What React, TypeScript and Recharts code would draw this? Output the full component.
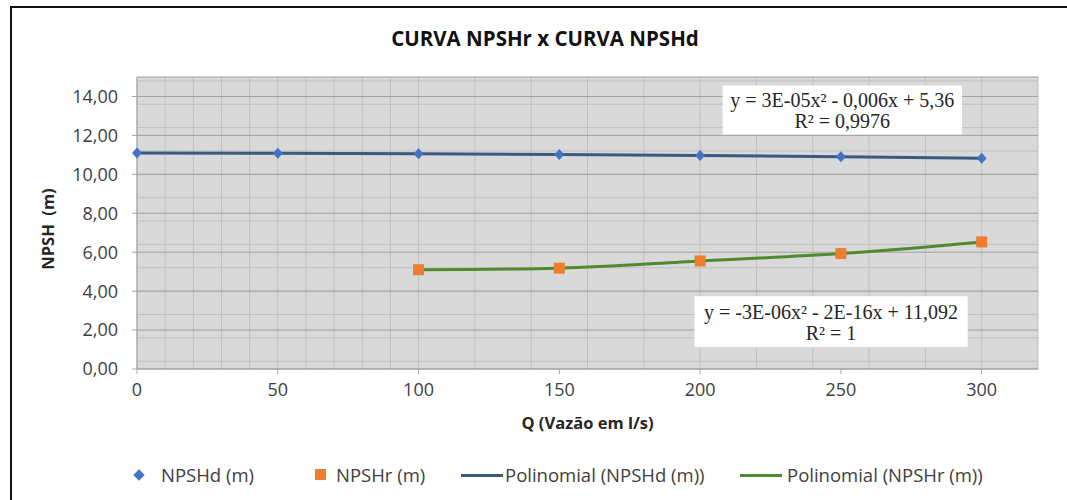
import {
  ComposedChart,
  Line,
  XAxis,
  YAxis,
  CartesianGrid,
  ReferenceArea,
  Legend,
} from "recharts";

// Q (l/s)
const vazao = [0, 50, 100, 150, 200, 250, 300];
// NPSH disponivel (m)
const npshd = [11.09, 11.08, 11.06, 11.02, 10.97, 10.9, 10.82];
// NPSH requerido (m) - sem dados abaixo de 100 l/s
const npshr = [null, null, 5.1, 5.18, 5.55, 5.93, 6.53];

const xTicks = [0, 50, 100, 150, 200, 250, 300];
const yTicks = [0, 2, 4, 6, 8, 10, 12, 14];

const eqTop = ["y = 3E-05x² - 0,006x + 5,36", "R² = 0,9976"];
const eqBottom = ["y = -3E-06x² - 2E-16x + 11,092", "R² = 1"];

const legendItems = [
  { name: "NPSHd (m)", icon: "diamond", color: "#4472c4", left: 133, textLeft: 161 },
  { name: "NPSHr (m)", icon: "square", color: "#ed7d31", left: 315, textLeft: 336 },
  { name: "Polinomial (NPSHd (m))", icon: "line", color: "#3b5a7f", left: 461, textLeft: 505 },
  { name: "Polinomial (NPSHr (m))", icon: "line", color: "#4e8a2e", left: 740, textLeft: 787 },
];

const data = vazao.map((q, i) => ({ q, npshd: npshd[i], npshr: npshr[i] }));

// grade secundaria do Excel
const minorX = Array.from({ length: 33 }, (_, i) => i * 10);
const minorY = Array.from({ length: 38 }, (_, i) => +(i * 0.4).toFixed(1));

const font = "'Open Sans', sans-serif";
const tickStyle = { fontSize: 18, fill: "#404040", fontFamily: font };

const Diamond = (props: any) => {
  const { cx, cy, index } = props;
  if (cx == null || cy == null || isNaN(cy)) return <g key={`d${index}`} />;
  return (
    <path
      key={`d${index}`}
      d={`M${cx},${cy - 5.5}L${cx + 5},${cy}L${cx},${cy + 5.5}L${cx - 5},${cy}Z`}
      fill="#4472c4"
    />
  );
};

const Square = (props: any) => {
  const { cx, cy, index } = props;
  if (cx == null || cy == null || isNaN(cy)) return <g key={`s${index}`} />;
  return <rect key={`s${index}`} x={cx - 5.5} y={cy - 5.5} width={11} height={11} fill="#ed7d31" />;
};

const eqLabel = (lines: string[]) => (props: any) => {
  const vb = props.viewBox || {};
  const cx = vb.x + vb.width / 2;
  const cy = vb.y + vb.height / 2;
  return (
    <g>
      {lines.map((t, i) => (
        <text
          key={i}
          x={cx}
          y={cy + (i === 0 ? -3 : 18)}
          textAnchor="middle"
          fontFamily="'Liberation Serif', serif"
          fontSize={20}
          fill="#262626"
        >
          {t}
        </text>
      ))}
    </g>
  );
};

const LegendBox = () => (
  <div style={{ position: "relative", height: 24, width: 1067, fontFamily: font, fontSize: 18.5, color: "#404040" }}>
    {legendItems.map((it) => (
      <div key={it.name}>
        {it.icon === "diamond" && (
          <div
            style={{
              position: "absolute",
              left: it.left + 2,
              top: 8,
              width: 8,
              height: 8,
              background: it.color,
              transform: "rotate(45deg)",
            }}
          />
        )}
        {it.icon === "square" && (
          <div style={{ position: "absolute", left: it.left, top: 6, width: 11, height: 11, background: it.color }} />
        )}
        {it.icon === "line" && (
          <div style={{ position: "absolute", left: it.left, top: 11, width: 42, height: 3, background: it.color }} />
        )}
        <span style={{ position: "absolute", left: it.textLeft, top: 0, lineHeight: "24px", whiteSpace: "nowrap" }}>
          {it.name}
        </span>
      </div>
    ))}
  </div>
);

export default function App() {
  return (
    <div
      style={{
        position: "fixed",
        left: 0,
        top: 0,
        width: 1067,
        height: 500,
        overflow: "hidden",
        background: "#fff",
      }}
    >
      <div style={{ position: "absolute", left: 10, top: 6, width: 1100, height: 2, background: "#111" }} />
      <div style={{ position: "absolute", left: 10, top: 6, width: 2, height: 600, background: "#111" }} />
      <div
        style={{
          position: "absolute",
          top: 26,
          left: 0,
          width: 1090,
          textAlign: "center",
          fontFamily: font,
          fontWeight: "bold",
          fontSize: 20.5,
          color: "#111",
          lineHeight: "24px",
        }}
      >
        CURVA NPSHr x CURVA NPSHd
      </div>
      <div style={{ position: "absolute", left: 0, top: 0 }}>
        <ComposedChart width={1067} height={500} data={data} margin={{ top: 77, right: 29, left: 0, bottom: 13 }}>
          <CartesianGrid fill="#d9d9d9" stroke="#bfbfbf" horizontalValues={minorY} verticalValues={minorX} />
          <CartesianGrid stroke="#a0a0a0" vertical={false} />
          <XAxis
            dataKey="q"
            type="number"
            domain={[0, 320]}
            ticks={xTicks}
            height={94}
            tick={tickStyle}
            tickSize={5}
            tickMargin={9}
            stroke="#a3a3a3"
            label={(props: any) => {
              const vb = props.viewBox || {};
              return (
                <text
                  x={vb.x + vb.width / 2}
                  y={vb.y + 60}
                  textAnchor="middle"
                  fontFamily={font}
                  fontWeight="bold"
                  fontSize={16.5}
                  fill="#262626"
                >
                  Q (Vazão em l/s)
                </text>
              );
            }}
          />
          <YAxis
            type="number"
            domain={[0, 15]}
            ticks={yTicks}
            width={137}
            tick={tickStyle}
            tickSize={5}
            tickMargin={14}
            stroke="#a3a3a3"
            tickFormatter={(v: number) => v.toFixed(2).replace(".", ",")}
            label={(props: any) => {
              const vb = props.viewBox || {};
              const x = vb.x + 50;
              const y = vb.y + vb.height / 2 + 6;
              return (
                <text
                  x={x}
                  y={y}
                  transform={`rotate(-90, ${x}, ${y})`}
                  textAnchor="middle"
                  dominantBaseline="middle"
                  fontFamily={font}
                  fontWeight="bold"
                  fontSize={16.5}
                  fill="#262626"
                  style={{ whiteSpace: "pre" }}
                >
                  NPSH  (m)
                </text>
              );
            }}
          />
          <ReferenceArea x1={208} x2={293} y1={12.05} y2={14.56} fill="#fff" fillOpacity={1} stroke="none" label={eqLabel(eqTop)} />
          <ReferenceArea x1={198} x2={295} y1={1.13} y2={3.74} fill="#fff" fillOpacity={1} stroke="none" label={eqLabel(eqBottom)} />
          <Line dataKey="npshd" type="monotone" stroke="#3b5a7f" strokeWidth={3} dot={false} activeDot={false} isAnimationActive={false} />
          <Line dataKey="npshr" type="monotone" stroke="#4e8a2e" strokeWidth={3} dot={false} activeDot={false} isAnimationActive={false} />
          <Line dataKey="npshd" stroke="none" dot={Diamond} activeDot={false} isAnimationActive={false} />
          <Line dataKey="npshr" stroke="none" dot={Square} activeDot={false} isAnimationActive={false} />
          <Legend verticalAlign="bottom" wrapperStyle={{ left: 0, width: 1067 }} content={LegendBox} />
        </ComposedChart>
      </div>
    </div>
  );
}
